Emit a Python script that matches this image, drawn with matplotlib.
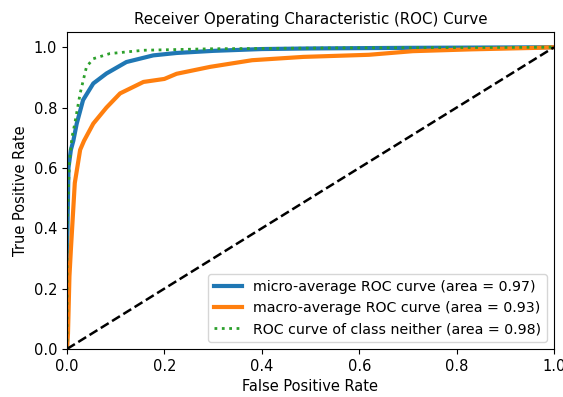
import matplotlib
matplotlib.use("Agg")
import matplotlib.pyplot as plt

# values
micro_fpr = [0.0, 0.0, 0.003, 0.008, 0.013, 0.02, 0.033, 0.054, 0.081, 0.122, 0.177, 0.225, 0.3, 0.4, 0.5, 0.7, 1.0]
micro_tpr = [0.0, 0.3, 0.6, 0.66, 0.69, 0.747, 0.825, 0.88, 0.913, 0.951, 0.973, 0.981, 0.988, 0.994, 0.996, 0.998, 1.0]

macro_fpr = [0.0, 0.002, 0.005, 0.008, 0.012, 0.016, 0.027, 0.035, 0.054, 0.081, 0.109, 0.157, 0.2, 0.225, 0.294, 0.38, 0.485, 0.62, 0.71, 0.83, 0.965, 1.0]
macro_tpr = [0.0, 0.05, 0.24, 0.33, 0.44, 0.55, 0.66, 0.69, 0.747, 0.80, 0.847, 0.885, 0.895, 0.912, 0.935, 0.957, 0.968, 0.975, 0.987, 0.993, 0.998, 1.0]

neither_fpr = [0.0, 0.0, 0.005, 0.01, 0.016, 0.027, 0.04, 0.054, 0.088, 0.157, 0.3, 0.6, 1.0]
neither_tpr = [0.0, 0.4, 0.62, 0.70, 0.747, 0.847, 0.935, 0.962, 0.979, 0.99, 0.995, 0.998, 1.0]

labels = ["micro-average ROC curve (area = 0.97)",
          "macro-average ROC curve (area = 0.93)",
          "ROC curve of class neither (area = 0.98)"]

fig = plt.figure(figsize=(5.63, 3.97), dpi=100)
ax = fig.add_axes([0.119, 0.121, 0.865, 0.798])

ax.plot(micro_fpr, micro_tpr, color='tab:blue', linestyle='-', linewidth=3, label=labels[0])
ax.plot(macro_fpr, macro_tpr, color='tab:orange', linestyle='-', linewidth=3, label=labels[1])
ax.plot(neither_fpr, neither_tpr, color='tab:green', linestyle=':', linewidth=2, label=labels[2])
ax.plot([0, 1], [0, 1], 'k--', linewidth=1.8)

ax.set_xlim([0.0, 1.0])
ax.set_ylim([0.0, 1.05])
ax.tick_params(labelsize=10.5)
ax.set_xlabel("False Positive Rate", fontsize=10.5)
ax.set_ylabel("True Positive Rate", fontsize=10.5)
ax.set_title("Receiver Operating Characteristic (ROC) Curve", fontsize=10.8)
ax.legend(loc="lower right", fontsize=10.2)

fig.savefig("out.png", dpi=100)
